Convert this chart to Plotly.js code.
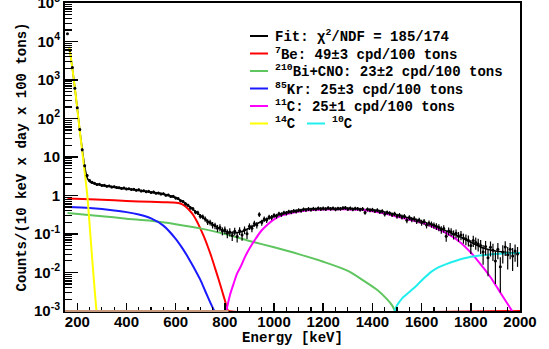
<!DOCTYPE html>
<html><head><meta charset="utf-8">
<script src="https://cdn.plot.ly/plotly-3.0.1.min.js"></script>
<style>html,body{margin:0;padding:0;background:#fff}#plot{width:549px;height:349px}</style>
</head><body><div id="plot"></div>
<script>
// ---- Data ----
const binEnergy = [160,170,180,190,200,210,220,230,240,250,260,270,280,290,300,310,320,330,340,350,360,370,380,390,400,410,420,430,440,450,460,470,480,490,500,510,520,530,540,550,560,570,580,590,600,610,620,630,640,650,660,670,680,690,700,710,720,730,740,750,760,770,780,790,800,810,820,830,840,850,860,870,880,890,900,910,920,930,940,950,960,970,980,990,1000,1010,1020,1030,1040,1050,1060,1070,1080,1090,1100,1110,1120,1130,1140,1150,1160,1170,1180,1190,1200,1210,1220,1230,1240,1250,1260,1270,1280,1290,1300,1310,1320,1330,1340,1350,1360,1370,1380,1390,1400,1410,1420,1430,1440,1450,1460,1470,1480,1490,1500,1510,1520,1530,1540,1550,1560,1570,1580,1590,1600,1610,1620,1630,1640,1650,1660,1670,1680,1690,1700,1710,1720,1730,1740,1750,1760,1770,1780,1790,1800,1810,1820,1830,1840,1850,1860,1870,1880,1890,1900,1910,1920,1930,1940,1950,1960,1970,1980,1990];
const binCounts = [15800,5800,2100,610,190,52,15.5,5.9,3.3,2.45,2.2,2.08,1.92,1.96,1.83,1.85,1.74,1.77,1.66,1.69,1.61,1.6,1.53,1.57,1.48,1.5,1.43,1.45,1.37,1.41,1.31,1.33,1.26,1.28,1.2,1.24,1.15,1.16,1.1,1.11,1.02,1.03,0.94,0.95,0.86,0.83,0.73,0.7,0.61,0.56,0.48,0.45,0.37,0.355,0.29,0.28,0.245,0.205,0.2,0.172,0.165,0.142,0.148,0.12,0.128,0.104,0.113,0.092,0.118,0.086,0.122,0.094,0.128,0.102,0.158,0.142,0.188,0.172,0.32,0.2,0.245,0.232,0.275,0.27,0.305,0.292,0.335,0.322,0.358,0.35,0.378,0.372,0.398,0.39,0.415,0.405,0.436,0.424,0.448,0.43,0.455,0.44,0.468,0.448,0.462,0.445,0.472,0.452,0.466,0.44,0.458,0.452,0.47,0.478,0.448,0.466,0.44,0.458,0.452,0.432,0.448,0.36,0.436,0.418,0.428,0.398,0.416,0.378,0.388,0.33,0.362,0.346,0.318,0.334,0.292,0.306,0.278,0.288,0.228,0.268,0.24,0.248,0.218,0.228,0.198,0.21,0.172,0.19,0.178,0.168,0.158,0.148,0.13,0.138,0.088,0.12,0.114,0.098,0.104,0.088,0.094,0.079,0.074,0.069,0.05,0.068,0.06,0.055,0.05,0.034,0.047,0.024,0.045,0.038,0.02,0.04,0.014,0.034,0.046,0.029,0.04,0.027,0.036,0.03];
const binErrors = [800,300,110,35,12,4,1.3,0.5,0.25,0.18,0.16,0.15,0.14,0.14,0.13,0.13,0.12,0.12,0.12,0.12,0.11,0.11,0.11,0.11,0.1,0.1,0.1,0.1,0.1,0.1,0.09,0.09,0.09,0.09,0.09,0.09,0.08,0.08,0.08,0.08,0.08,0.08,0.07,0.07,0.07,0.07,0.06,0.06,0.06,0.05,0.05,0.05,0.045,0.045,0.04,0.04,0.038,0.035,0.035,0.033,0.032,0.03,0.03,0.028,0.028,0.027,0.027,0.026,0.027,0.026,0.028,0.027,0.029,0.028,0.031,0.031,0.034,0.033,0.045,0.036,0.039,0.038,0.041,0.041,0.043,0.042,0.045,0.044,0.046,0.046,0.048,0.047,0.049,0.048,0.05,0.049,0.051,0.05,0.052,0.051,0.052,0.051,0.053,0.052,0.052,0.051,0.053,0.052,0.053,0.051,0.052,0.052,0.053,0.053,0.052,0.053,0.051,0.052,0.052,0.051,0.052,0.046,0.051,0.05,0.05,0.049,0.05,0.048,0.048,0.044,0.046,0.045,0.043,0.044,0.042,0.043,0.041,0.041,0.037,0.04,0.038,0.039,0.036,0.037,0.035,0.036,0.033,0.034,0.033,0.032,0.031,0.03,0.029,0.03,0.025,0.028,0.027,0.026,0.026,0.025,0.025,0.023,0.023,0.022,0.02,0.022,0.021,0.02,0.02,0.018,0.019,0.016,0.019,0.018,0.015,0.018,0.011,0.017,0.019,0.017,0.018,0.016,0.017,0.016];

const fitEnergy = [167,170,175,180,190,200,210,220,230,240,250,260,270,280,300,350,400,450,500,550,600,630,660,690,720,750,780,810,840,870,900,950,1000,1050,1100,1150,1200,1250,1300,1350,1400,1450,1500,1550,1600,1650,1700,1750,1800,1850,1900,1950,2000];
const fitValues = [7250,5620,3390,2000,633,180,49.6,15.8,5.7,2.9,2.3,2.12,2.03,1.96,1.85,1.65,1.5,1.36,1.22,1.09,0.87,0.68,0.49,0.34,0.24,0.178,0.136,0.112,0.106,0.116,0.143,0.215,0.29,0.36,0.41,0.44,0.455,0.46,0.455,0.44,0.415,0.37,0.31,0.26,0.21,0.165,0.12,0.088,0.061,0.043,0.036,0.033,0.032];

const be7Energy = [160,250,350,450,550,590,610,625,640,655,670,685,700,715,730,745,760,775,790,800,810,815,2000];
const be7Values = [0.84,0.8,0.75,0.7,0.67,0.66,0.64,0.6,0.52,0.42,0.32,0.22,0.14,0.085,0.048,0.026,0.013,0.0065,0.0031,0.0019,0.0011,0.001,0.001];

const bicnoEnergy = [160,300,400,500,600,700,800,900,1000,1100,1200,1300,1370,1420,1460,1480,1492];
const bicnoValues = [0.35,0.29,0.25,0.22,0.18,0.14,0.1,0.066,0.045,0.03,0.019,0.011,0.0058,0.0035,0.002,0.0014,0.001];

const kr85Energy = [160,250,350,400,450,500,550,600,625,650,675,700,720,740,757];
const kr85Values = [0.5,0.47,0.41,0.37,0.32,0.255,0.165,0.075,0.045,0.025,0.013,0.0065,0.0033,0.0017,0.001];

const c11Energy = [806,820,835,850,865,880,900,925,950,975,1000,1030,1070,1130,1200,1280,1370,1450,1500,1550,1600,1650,1700,1750,1800,1850,1880,1910,1940,1968];
const c11Values = [0.001,0.0025,0.005,0.0095,0.0145,0.024,0.042,0.075,0.125,0.18,0.24,0.3,0.35,0.405,0.43,0.44,0.415,0.34,0.28,0.235,0.195,0.15,0.105,0.066,0.033,0.0135,0.0075,0.0038,0.0019,0.001];

const c14Energy = [167,170,175,180,190,200,210,220,230,240,250,260,270,278];
const c14Values = [7250,5620,3390,2000,631,178,47.9,14.1,3.98,1.12,0.178,0.0251,0.00398,0.001];

const c10Energy = [1490,1500,1520,1550,1580,1600,1640,1670,1700,1740,1800,1870,1940,2000];
const c10Values = [0.001,0.0014,0.0021,0.0031,0.0046,0.0062,0.0105,0.0137,0.0165,0.0202,0.0255,0.029,0.031,0.032];

const seriesNames = ['Fit: \u03c7<sup>2</sup>/NDF = 185/174',
  '<sup>7</sup>Be: 49\u00b13 cpd/100 tons',
  '<sup>210</sup>Bi+CNO: 23\u00b12 cpd/100 tons',
  '<sup>85</sup>Kr: 25\u00b13 cpd/100 tons',
  '<sup>11</sup>C: 25\u00b11 cpd/100 tons',
  '<sup>14</sup>C',
  '<sup>10</sup>C'];
const seriesColors = ['#000000','#ff0000','#5fc65f','#1a1aff','#ff00ff','#ffff00','#22eeee'];
const yTickVals = [1e-3,1e-2,1e-1,1,10,1e2,1e3,1e4,1e5];
const yTickText = ['10<sup>-3</sup>','10<sup>-2</sup>','10<sup>-1</sup>','1','10','10<sup>2</sup>','10<sup>3</sup>','10<sup>4</sup>','10<sup>5</sup>'];

// minor tick positions for log axis (2..9 of each decade)
const yMinor = [];
for (let d = -3; d < 5; d++) for (let m = 2; m <= 9; m++) yMinor.push(m * Math.pow(10, d));

const lw = 2;
const curves = [[fitEnergy,fitValues],[be7Energy,be7Values],[bicnoEnergy,bicnoValues],[kr85Energy,kr85Values],[c11Energy,c11Values],[c14Energy,c14Values],[c10Energy,c10Values]];
const traces = curves.map((c,i)=>({x:c[0], y:c[1], mode:'lines', name:seriesNames[i],
   line:{color:seriesColors[i], width: i===0?1.6:lw, shape:'spline', smoothing:i===1?0.6:0.8}, showlegend:false}));
traces.push({x: binEnergy, y: binCounts, mode:'markers', marker:{color:'#000', size:3}, name:'Data',
   error_y:{type:'data', array: binErrors, visible:true, color:'#000', thickness:1.2, width:0},
   showlegend:false});

const monoBold = {family:'"Liberation Mono", "DejaVu Sans Mono", monospace', size:14, color:'#000', weight:'bold'};
const sansBold = {family:'"Liberation Sans", Arial, sans-serif', size:15, color:'#000', weight:'bold'};

// legend drawn in pixel positions (paper coords derived from margins)
const M = {l:65, r:29, t:3, b:38};
const PW = 549 - M.l - M.r, PH = 349 - M.t - M.b;
const px = x => (x - M.l) / PW, py = y => 1 - (y - M.t) / PH;
const rowY = [36, 53.5, 71, 88.5, 106, 123.5, 123.5];
const sampleX0 = [250,250,250,250,250,250,307];
const shapes = [], annotations = [];
seriesNames.forEach((n,i)=>{
  shapes.push({type:'line', xref:'paper', yref:'paper', x0:px(sampleX0[i]), x1:px(sampleX0[i]+18), y0:py(rowY[i]), y1:py(rowY[i]),
    line:{color:seriesColors[i], width:2}});
  annotations.push({xref:'paper', yref:'paper', x:px(sampleX0[i]+23), y:py(rowY[i]), xanchor:'left', yanchor:'middle',
    text:n, showarrow:false, font:monoBold});
});
shapes.push({type:'line', xref:'x', yref:'paper', x0:150, x1:815, y0:0, y1:0, line:{color:'#c79a7e', width:2}, layer:'above'});

const layout = {
  width:549, height:349,
  margin:M,
  paper_bgcolor:'#fff', plot_bgcolor:'#fff',
  xaxis:{
    type:'linear', range:[150,2000], tick0:0, dtick:200,
    ticks:'inside', ticklen:8, tickwidth:1.5, tickcolor:'#000',
    minor:{ticks:'inside', ticklen:4, tickwidth:1.2, tickcolor:'#000', dtick:50, tick0:0},
    showline:true, mirror:true, linewidth:2, linecolor:'#000',
    showgrid:false, zeroline:false,
    tickfont: sansBold, ticklabelstandoff:-4,
    title:{text:'Energy [keV]', font: monoBold, standoff:1}
  },
  yaxis:{
    type:'log', range:[-3.0005,5.0005],
    tickmode:'array', tickvals:yTickVals, ticktext:yTickText,
    ticks:'inside', ticklen:13, tickwidth:1.5, tickcolor:'#000',
    minor:{ticks:'inside', ticklen:7, tickwidth:1.2, tickcolor:'#000', tickmode:'array', tickvals:yMinor},
    showline:true, mirror:true, linewidth:2, linecolor:'#000',
    showgrid:false, zeroline:false, ticklabeloverflow:'allow',
    tickfont: sansBold,
    title:{text:'Counts/(10 keV x day x 100 tons)', font: monoBold, standoff:4}
  },
  showlegend:false,
  shapes: shapes,
  annotations: annotations
};

Plotly.newPlot('plot', traces, layout, {displayModeBar:false, staticPlot:true});
</script>
</body></html>
